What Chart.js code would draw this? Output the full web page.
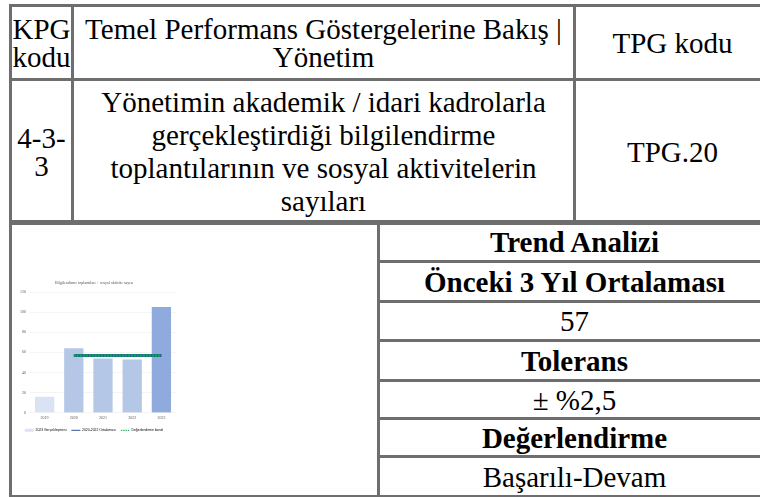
<!DOCTYPE html>
<html lang="tr">
<head>
<meta charset="utf-8">
<title>TPG.20</title>
<script src="https://cdn.jsdelivr.net/npm/chart.js@4.4.0/dist/chart.umd.min.js"></script>
<style>
html, body { margin: 0; padding: 0; background: #fff; overflow: hidden; width: 760px; height: 497px; }
body { position: relative; font-family: "Liberation Serif", "Times New Roman", serif; font-size: 29px; color: #000; }
table { position: absolute; border-collapse: collapse; table-layout: fixed; }
td { border: 3px solid #6e6e6e; padding: 0; text-align: center; vertical-align: middle; line-height: 28px; overflow: hidden; white-space: nowrap; }
td.desc { line-height: 33px; }
td.b { font-weight: bold; }
#chart-box { position: absolute; left: 12px; top: 270px; width: 175px; height: 172px; }
</style>
</head>
<body>

<table style="left:9px; top:4px; width:763px">
  <colgroup><col style="width:62px"><col style="width:502px"><col></colgroup>
  <tr style="height:74px">
    <td>KPG<br>kodu</td>
    <td>Temel Performans Göstergelerine Bakış |<br>Yönetim</td>
    <td>TPG kodu</td>
  </tr>
  <tr style="height:144px">
    <td>4-3-<br>3</td>
    <td class="desc">Yönetimin akademik / idari kadrolarla<br>gerçekleştirdiği bilgilendirme<br>toplantılarının ve sosyal aktivitelerin<br>sayıları</td>
    <td>TPG.20</td>
  </tr>
</table>

<table style="left:9px; top:220px; width:763px">
  <colgroup><col style="width:368px"><col></colgroup>
  <tr style="height:40px"><td rowspan="7"></td><td class="b">Trend Analizi</td></tr>
  <tr style="height:40px"><td class="b">Önceki 3 Yıl Ortalaması</td></tr>
  <tr style="height:39px"><td>57</td></tr>
  <tr style="height:40px"><td class="b">Tolerans</td></tr>
  <tr style="height:38px"><td>± %2,5</td></tr>
  <tr style="height:38px"><td class="b">Değerlendirme</td></tr>
  <tr style="height:40px"><td>Başarılı-Devam</td></tr>
</table>

<div id="chart-box"><canvas id="trend-chart"></canvas></div>

<script>
const years = ['2019', '2020', '2021', '2022', '2023'];
const actualValues = [16, 64, 54, 53, 105];
const averageValues = [null, 57, 57, 57, 57];
const bandValues = [null, 57, 57, 57, 57];
const yTicks = [0, 20, 40, 60, 80, 100, 120];
const seriesNames = ['2023 Gerçekleşmesi', '2020-2022 Ortalaması', 'Değerlendirme bandı'];
const chartTitle = 'Bilgilendirme toplantıları + sosyal aktivite sayısı';

const barColors = ['#dae3f3', '#b4c7e7', '#b4c7e7', '#b4c7e7', '#8faadc'];
const avgColor = '#2f5597';
const bandColor = '#00b050';

const ctx = document.getElementById('trend-chart');
//eslint-disable-next-line no-undef
new Chart(ctx, {
    type: 'bar',
    data: {
        labels: years,
        datasets: [{
            type: 'line',
            label: seriesNames[2],
            data: bandValues,
            borderColor: bandColor,
            borderWidth: 2.5,
            borderDash: [2, 1],
            pointRadius: 0,
            fill: false,
            order: 0
        }, {
            type: 'line',
            label: seriesNames[1],
            data: averageValues,
            borderColor: avgColor,
            borderWidth: 3,
            pointRadius: 0,
            fill: false,
            order: 1
        }, {
            label: seriesNames[0],
            data: actualValues,
            backgroundColor: (c) => c.type === 'data' ? barColors[c.dataIndex] : barColors[0],
            borderWidth: 0,
            barPercentage: 0.66,
            categoryPercentage: 1,
            order: 2
        }]
    },
    options: {
        responsive: true,
        maintainAspectRatio: false,
        animation: false,
        layout: { padding: { left: 0, right: 11, top: 0, bottom: 0 } },
        plugins: {
            title: {
                display: true,
                text: chartTitle,
                color: '#595959',
                font: { family: 'Liberation Serif', size: 4, weight: 'normal' },
                padding: { top: 10.6, bottom: 6.6 }
            },
            legend: {
                position: 'bottom',
                labels: {
                    color: '#595959',
                    font: { family: 'Liberation Sans', size: 3.4 },
                    usePointStyle: true,
                    pointStyleWidth: 9,
                    boxHeight: 3,
                    padding: 5,
                    generateLabels: () => [
                        { text: seriesNames[0], fillStyle: barColors[0], strokeStyle: barColors[0], lineWidth: 0, pointStyle: 'rect', datasetIndex: 2 },
                        { text: seriesNames[1], fillStyle: avgColor, strokeStyle: avgColor, lineWidth: 1, pointStyle: 'line', datasetIndex: 1 },
                        { text: seriesNames[2], fillStyle: bandColor, strokeStyle: bandColor, lineWidth: 1, lineDash: [1.5, 0.8], pointStyle: 'line', datasetIndex: 0 }
                    ]
                }
            },
            tooltip: { enabled: false }
        },
        scales: {
            x: {
                grid: { display: false, drawTicks: false },
                border: { display: false },
                ticks: { color: '#595959', padding: 3, font: { family: 'Liberation Serif', size: 4 } }
            },
            y: {
                min: yTicks[0],
                max: yTicks[yTicks.length - 1],
                ticks: { stepSize: yTicks[1] - yTicks[0], color: '#595959', padding: 4, font: { family: 'Liberation Serif', size: 4 } },
                grid: { color: '#ececec', lineWidth: 0.6, drawTicks: false },
                border: { display: false },
                afterFit: (scale) => { scale.width = 18; }
            }
        }
    }
});
</script>
</body>
</html>
